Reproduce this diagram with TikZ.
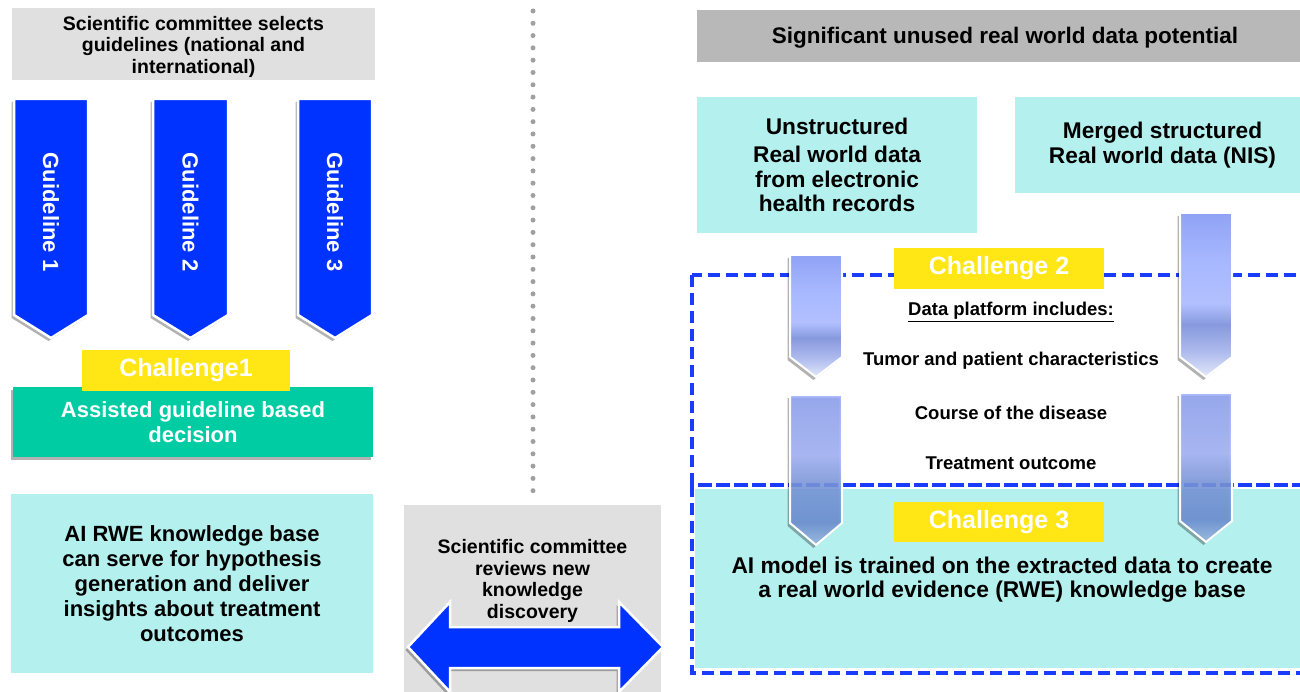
\documentclass[tikz,border=0pt]{standalone}
\usepackage{fontspec}
\setmainfont{Liberation Sans}
\usetikzlibrary{shadows}

\definecolor{grisclaro}{RGB}{224,224,224}
\definecolor{grisoscuro}{RGB}{184,184,184}
\definecolor{azulguia}{RGB}{0,51,255}
\definecolor{amarillo}{RGB}{255,230,20}
\definecolor{verde}{RGB}{0,204,163}
\definecolor{cian}{RGB}{180,240,238}
\definecolor{azultrazo}{RGB}{25,60,255}
\definecolor{puntos}{RGB}{160,160,160}

% Degradados de las flechas de datos
\pgfdeclareverticalshading{degradadoa}{100bp}{color(0bp)=(rgb,255:red,228;green,232;blue,248); color(25bp)=(rgb,255:red,228;green,232;blue,248); color(32.5bp)=(rgb,255:red,175;green,188;blue,238); color(41bp)=(rgb,255:red,135;green,153;blue,222); color(47.5bp)=(rgb,255:red,178;green,192;blue,255); color(60bp)=(rgb,255:red,168;green,184;blue,255); color(75bp)=(rgb,255:red,143;green,162;blue,245); color(100bp)=(rgb,255:red,143;green,162;blue,245)}
\pgfdeclareverticalshading{degradadob}{100bp}{color(0bp)=(rgb,255:red,160;green,190;blue,232); color(25bp)=(rgb,255:red,160;green,190;blue,232); color(32.5bp)=(rgb,255:red,110;green,145;blue,215); color(45bp)=(rgb,255:red,125;green,155;blue,225); color(55bp)=(rgb,255:red,165;green,182;blue,252); color(75bp)=(rgb,255:red,145;green,165;blue,245); color(100bp)=(rgb,255:red,145;green,165;blue,245)}

\begin{document}
\begin{tikzpicture}[x=1pt,y=-1pt,
    texto/.style={font=\bfseries\fontsize{19.5}{21.5}\selectfont, align=center},
    textogrande/.style={font=\bfseries\fontsize{22}{25}\selectfont, align=center},
    textoder/.style={font=\bfseries\fontsize{22.7}{24.5}\selectfont, align=center},
    textoplat/.style={font=\bfseries\fontsize{18.5}{21}\selectfont},
    reto/.style={fill=amarillo, text=white, font=\bfseries\fontsize{25}{28}\selectfont},
    sombra/.style={drop shadow={shadow xshift=-2.5pt, shadow yshift=-3pt, opacity=0.3, fill=black}},
    flechaguia/.style={fill=azulguia, draw=white, line width=2.5pt, sombra},
    flechadatos/.style={shading=#1, draw=white, line width=2pt, sombra},
    guia/.style={text=white, rotate=-90, font=\bfseries\fontsize{22}{24}\selectfont},
    marco/.style={draw=azultrazo, line width=3.5pt, dash pattern=on 12pt off 6pt},
  ]
    \useasboundingbox (0,0) rectangle (1300,692);

    % Lado izquierdo: directrices
    \node[fill=grisclaro, minimum width=363pt, minimum height=72pt] (cajaselecciona) at (193.5,44) {};
    \node[texto] (selecciona) at (193.5,46.5)
        {Scientific committee selects\\guidelines (national and\\international)};

    \draw[flechaguia] (14,99) -- (88,99) -- (88,315) -- (51,338) -- (14,315) -- cycle;
    \node[guia] (guia1) at (51,212) {Guideline 1};
    \draw[flechaguia] (153,99) -- (228,99) -- (228,315) -- (190.5,338) -- (153,315) -- cycle;
    \node[guia] (guia2) at (190.5,212) {Guideline 2};
    \draw[flechaguia] (298,99) -- (372,99) -- (372,315) -- (335,338) -- (298,315) -- cycle;
    \node[guia] (guia3) at (335,212) {Guideline 3};

    % Reto 1
    \node[fill=verde, minimum width=360pt, minimum height=70pt, text=white, textogrande, sombra] (decision) at (193,422)
        {Assisted guideline based\\decision};
    \node[reto, minimum width=208pt, minimum height=41pt] (reto1) at (186,370.5) {Challenge1};

    \node[fill=cian, minimum width=362pt, minimum height=179pt, textogrande] (base) at (192,583.5)
        {AI RWE knowledge base\\can serve for hypothesis\\generation and deliver\\insights about treatment\\outcomes};

    % Separador punteado
    \draw[puntos, line width=5pt, line cap=round, dash pattern=on 0pt off 12.3pt] (533,11) -- (533,493);

    % Revision del comite
    \node[fill=grisclaro, minimum width=257pt, minimum height=187pt] (cajarevisa) at (532.5,598.5) {};
    \node[texto] (revisa) at (532.5,581) {Scientific committee\\reviews new\\knowledge\\discovery};
    \draw[fill=azulguia, draw=white, line width=2.5pt, sombra] (408,647) -- (450,602) -- (450,627) -- (619,627)
        -- (619,602) -- (663,647) -- (619,692) -- (619,668) -- (450,668) -- (450,692) -- cycle;

    % Lado derecho: datos del mundo real
    \node[fill=grisoscuro, minimum width=616pt, minimum height=52pt] (cajapotencial) at (1005,36) {};
    \node[font=\bfseries\fontsize{22.5}{24}\selectfont] (potencial) at (1005,38)
        {Significant unused real world data potential};
    \node[fill=cian, minimum width=280pt, minimum height=136pt, textoder] (noestructurado) at (837,165)
        {Unstructured\\[4pt]Real world data\\from electronic\\health records};
    \node[fill=cian, minimum width=295pt, minimum height=96pt, textoder] (estructurado) at (1162.5,145)
        {Merged structured\\Real world data (NIS)};

    \node[fill=cian, minimum width=615pt, minimum height=179pt] (cajamodelo) at (1002.5,578.5) {};

    % Marcos discontinuos
    \draw[marco] (692,275) rectangle (1315,485);
    \draw[marco] (692,485) rectangle (1315,673);

    % Flechas de datos
    \shadedraw[flechadatos=degradadoa] (790,255) -- (842,255) -- (842,357) -- (816,377) -- (790,357) -- cycle;
    \shadedraw[flechadatos=degradadoa] (1180,213) -- (1232,213) -- (1232,357) -- (1206,377) -- (1180,357) -- cycle;
    \shadedraw[flechadatos=degradadob, fill opacity=0.85] (790,395) -- (842,395) -- (842,523) -- (816,545) -- (790,523) -- cycle;
    \shadedraw[flechadatos=degradadob, fill opacity=0.85] (1180,393) -- (1232,393) -- (1232,521) -- (1206,542) -- (1180,521) -- cycle;

    % Retos 2 y 3
    \node[reto, minimum width=210pt, minimum height=41pt] (reto2) at (999,268.5) {Challenge 2};
    \node[reto, minimum width=210pt, minimum height=40pt] (reto3) at (999,522) {Challenge 3};

    \node[textoplat] (plataforma) at (1011,312) {\underline{Data platform includes:}};
    \node[textoplat] (tumor) at (1011,361) {Tumor and patient characteristics};
    \node[textoplat] (curso) at (1011,413) {Course of the disease};
    \node[textoplat] (resultado) at (1011,463) {Treatment outcome};

    \node[font=\bfseries\fontsize{22.8}{24}\selectfont, align=center] (modelo) at (1002,580)
        {AI model is trained on the extracted data to create\\a real world evidence (RWE) knowledge base};
\end{tikzpicture}
\end{document}
